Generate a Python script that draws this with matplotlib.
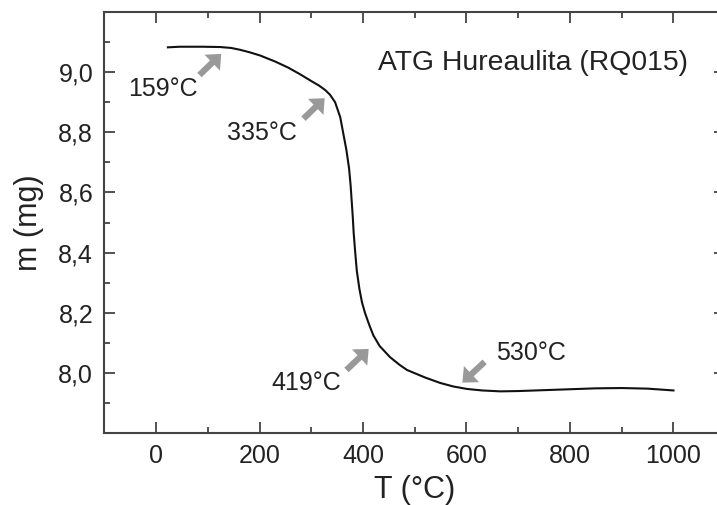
import numpy as np
import matplotlib.pyplot as plt
from matplotlib.ticker import MultipleLocator, FuncFormatter

plt.rcParams['font.family'] = ['Liberation Sans', 'DejaVu Sans']

# TGA curve
T = [23, 46, 90, 124, 145, 162, 180, 201, 230, 255, 278, 300, 315, 327, 336,
     346, 356, 362, 368, 373, 376, 378, 380, 382, 385, 388, 393, 398, 404,
     412, 420, 432, 452, 470, 485, 520, 549, 575, 601, 630, 665, 700, 750,
     800, 850, 900, 950, 1000]
m = [9.082, 9.084, 9.084, 9.083, 9.080, 9.074, 9.066, 9.055, 9.035, 9.015,
     8.993, 8.970, 8.955, 8.940, 8.925, 8.900, 8.850, 8.795, 8.740, 8.681,
     8.625, 8.575, 8.525, 8.465, 8.400, 8.340, 8.280, 8.235, 8.199, 8.160,
     8.125, 8.090, 8.053, 8.028, 8.010, 7.985, 7.967, 7.955, 7.947, 7.942,
     7.939, 7.940, 7.943, 7.946, 7.949, 7.950, 7.948, 7.942]

labels = ['159°C', '335°C', '419°C', '530°C']
label_pos = [(14, 8.944), (205, 8.797), (290, 7.967), (725, 8.066)]
arrow_tail = [(84, 8.990), (285, 8.845), (368, 8.010), (635, 8.037)]
arrow_tip = [(126, 9.060), (326, 8.913), (411, 8.080), (592, 7.968)]

fig = plt.figure(figsize=(7.17, 5.05), dpi=100)
ax = fig.add_axes([0.1454, 0.1422, 0.8661, 0.8344])

ax.plot(T, m, color='#111111', lw=1.5)

for lab, pos, tail, tip in zip(labels, label_pos, arrow_tail, arrow_tip):
    ax.annotate('', xy=tip, xytext=tail,
                arrowprops=dict(facecolor='#999999', edgecolor='none',
                                width=4.5, headwidth=16, headlength=9, shrink=0))
    ax.text(pos[0], pos[1], lab, fontsize=18, ha='center', va='center',
            color='#222222')

ax.text(728, 9.03, 'ATG Hureaulita (RQ015)', fontsize=20.4, ha='center',
        va='center', color='#222222')

ax.set_xlim(-100, 1100)
ax.set_ylim(7.8, 9.2)
ax.xaxis.set_minor_locator(MultipleLocator(100))
ax.yaxis.set_minor_locator(MultipleLocator(0.1))
ax.set_xticks([0, 200, 400, 600, 800, 1000])
ax.set_yticks([8.0, 8.2, 8.4, 8.6, 8.8, 9.0])
ax.yaxis.set_major_formatter(FuncFormatter(lambda v, p: f'{v:.1f}'.replace('.', ',')))

ax.tick_params(which='both', direction='in', top=True, right=True,
               color='#444444', width=1.3, labelsize=18, labelcolor='#222222')
ax.tick_params(which='major', length=8, pad=8)
ax.tick_params(which='minor', length=4)
for s in ax.spines.values():
    s.set_color('#444444')
    s.set_linewidth(1.5)

ax.set_xlabel('T (°C)', fontsize=22, color='#222222', labelpad=5)
ax.set_ylabel('m (mg)', fontsize=22, color='#222222', labelpad=10)

fig.savefig('out.png', dpi=100)
